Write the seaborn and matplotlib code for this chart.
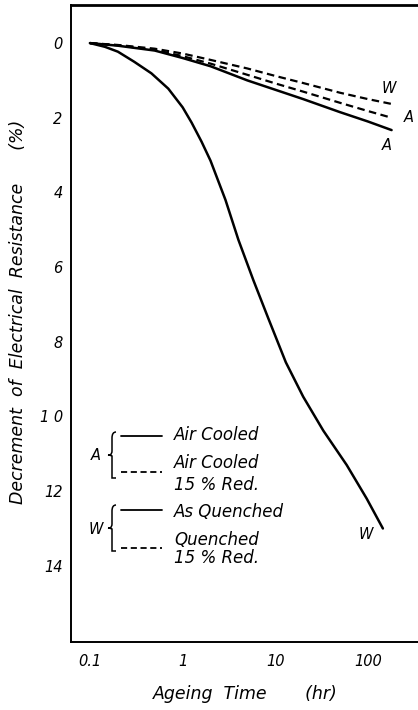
import numpy as np
import pandas as pd
import matplotlib
matplotlib.use("Agg")
import matplotlib.pyplot as plt
from matplotlib.path import Path
from matplotlib.patches import PathPatch
from matplotlib.lines import Line2D
import seaborn as sns

# Ageing time (hr) and decrement of electrical resistance (%)
t_air = [0.1, 0.2, 0.5, 1, 2, 5, 10, 20, 50, 100, 180]
air_cooled = [0, 0.07, 0.2, 0.4, 0.62, 1.0, 1.25, 1.5, 1.85, 2.1, 2.33]
air_cooled_red = [0, 0.06, 0.18, 0.35, 0.55, 0.85, 1.08, 1.3, 1.6, 1.82, 2.0]
quenched_red = [0, 0.05, 0.15, 0.28, 0.45, 0.68, 0.88, 1.07, 1.33, 1.5, 1.63]

t_quench = [0.1, 0.145, 0.2, 0.3, 0.46, 0.7, 1.0, 1.25, 1.6, 2.0, 2.9, 4.0,
            5.8, 8.4, 13, 20, 33, 59, 97, 145]
as_quenched = [0, 0.1, 0.23, 0.5, 0.81, 1.22, 1.72, 2.13, 2.64, 3.15, 4.2, 5.27,
               6.35, 7.37, 8.55, 9.47, 10.38, 11.3, 12.2, 13.0]

xticks = [0.1, 1, 10, 100]
xtick_labels = ["0.1", "1", "10", "100"]
yticks = [0, 2, 4, 6, 8, 10, 12, 14]
ytick_labels = ["0", "2", "4", "6", "8", "1 0", "12", "14"]

sns.set_theme(style="white")
plt.rcParams["font.family"] = ["DejaVu Sans"]
plt.rcParams["font.style"] = "italic"

W, H = 418, 710
fig = plt.figure(figsize=(W / 100, H / 100), dpi=100)
ax = fig.add_axes([71 / W, 68 / H, 1 - 71 / W, (642 - 5) / H])

df_air = pd.DataFrame({"t": t_air, "ac": air_cooled, "acr": air_cooled_red, "qr": quenched_red})
df_q = pd.DataFrame({"t": t_quench, "aq": as_quenched})

solid_lw = 1.8
dash_lw = 1.6
dash = (0, (3.4, 2.0))

sns.lineplot(data=df_air, x="t", y="ac", ax=ax, color="black", lw=solid_lw, estimator=None)
sns.lineplot(data=df_air, x="t", y="acr", ax=ax, color="black", lw=dash_lw, linestyle=dash, estimator=None)
sns.lineplot(data=df_air, x="t", y="qr", ax=ax, color="black", lw=dash_lw, linestyle=dash, estimator=None)
sns.lineplot(data=df_q, x="t", y="aq", ax=ax, color="black", lw=solid_lw, estimator=None)

ax.set_xscale("log")
ax.set_xlim(0.0624, 347)
ax.set_ylim(16.04, -1.02)
ax.set_xticks(xticks)
ax.set_xticklabels(xtick_labels, fontsize=10.5)
ax.set_yticks(yticks)
ax.set_yticklabels(ytick_labels, fontsize=10.5)
ax.minorticks_off()
ax.tick_params(axis="both", direction="in", length=8, width=1.0, color="black",
               labelcolor="black", pad=6)
ax.tick_params(axis="x", pad=9)

for side in ["left", "bottom", "top"]:
    ax.spines[side].set_color("black")
    ax.spines[side].set_linewidth(1.4)
ax.spines["top"].set_linewidth(2.0)
ax.spines["right"].set_visible(False)

ax.set_xlabel("")
ax.set_ylabel("")

# End-of-curve tags
lab_kw = dict(textcoords="offset points", fontsize=10.5, color="black", style="italic")
ax.annotate("W", xy=(t_air[-1], quenched_red[-1]), xytext=(-7, 11), ha="left", va="center", **lab_kw)
ax.annotate("A", xy=(t_air[-1], air_cooled_red[-1]), xytext=(9, 0), ha="left", va="center", **lab_kw)
ax.annotate("A", xy=(t_air[-1], air_cooled[-1]), xytext=(-7, -11), ha="left", va="center", **lab_kw)
ax.annotate("W", xy=(t_quench[-1], as_quenched[-1]), xytext=(-12, -4), ha="center", va="center", **lab_kw)

# Axis titles
fig.text(18 / W, 1 - 312 / H, "Decrement  of  Electrical  Resistance      (%)",
         rotation=90, ha="center", va="center", fontsize=12.5, color="black")
fig.text(245 / W, 1 - 694 / H, "Ageing  Time       (hr)",
         ha="center", va="center", fontsize=12.5, color="black")


def fx(x):
    return x / W


def fy(y):
    return 1 - y / H


def brace(x, y0, y1):
    ym = (y0 + y1) / 2
    verts = [(x + 4, y0), (x, y0), (x, y0 + 6), (x, ym - 4),
             (x, ym - 1), (x - 2, ym), (x - 4, ym),
             (x - 2, ym), (x, ym + 1), (x, ym + 4),
             (x, y1 - 6), (x, y1), (x + 4, y1)]
    codes = [Path.MOVETO, Path.CURVE3, Path.CURVE3, Path.LINETO,
             Path.CURVE3, Path.CURVE3, Path.LINETO,
             Path.CURVE3, Path.CURVE3, Path.LINETO,
             Path.CURVE3, Path.CURVE3, Path.LINETO]
    path = Path([(fx(a), fy(b)) for a, b in verts], codes)
    fig.add_artist(PathPatch(path, transform=fig.transFigure, fill=False,
                             lw=1.1, edgecolor="black"))


# Key
leg_fs = 12
brace(112, 432, 478)
brace(112, 505, 551)
fig.text(fx(96), fy(456), "A", ha="center", va="center", fontsize=10.5, color="black")
fig.text(fx(96), fy(529), "W", ha="center", va="center", fontsize=10.5, color="black")
for y, ls in [(436, "-"), (472, dash), (510, "-"), (548, dash)]:
    fig.add_artist(Line2D([fx(121), fx(162)], [fy(y), fy(y)], transform=fig.transFigure,
                          color="black", lw=1.3, linestyle=ls))
for y, s in [(435, "Air Cooled"), (463, "Air Cooled"), (485, "15 % Red."),
             (512, "As Quenched"), (540, "Quenched"), (558, "15 % Red.")]:
    fig.text(fx(174), fy(y), s, ha="left", va="center", fontsize=leg_fs, color="black")

fig.savefig("out.png", dpi=100, facecolor="white")
